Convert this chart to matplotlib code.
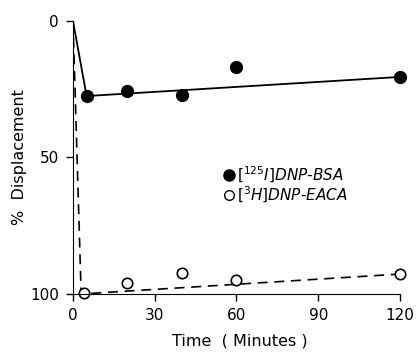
import matplotlib
matplotlib.use('Agg')
import matplotlib.pyplot as plt
from matplotlib.lines import Line2D

plt.rcParams['mathtext.default'] = 'it'

# measured points
bsa_t = [5, 20, 40, 60, 120]
bsa_d = [27.5, 25.5, 27, 17, 20.5]
eaca_t = [4, 20, 40, 60, 120]
eaca_d = [99.5, 96, 92.3, 95, 92.7]

# curves drawn through the data
bsa_line_t = [0, 5, 120]
bsa_line_d = [0, 27.5, 20.5]
eaca_line_t = [0, 3, 120]
eaca_line_d = [0, 100, 92.7]

fig = plt.figure(figsize=(4.18, 3.56), dpi=100)
ax = fig.add_axes([0.1746, 0.1742, 0.7823, 0.7669])

ax.plot(bsa_line_t, bsa_line_d, color='black', lw=1.3)
ax.plot(eaca_line_t, eaca_line_d, color='black', lw=1.2, ls=(0, (6, 4)))
ax.plot(bsa_t, bsa_d, 'o', color='black', ms=8.5, clip_on=False)
ax.plot(eaca_t, eaca_d, 'o', mfc='white', mec='black', mew=1.2, ms=7.5, clip_on=False)

ax.set_xlim(0, 120)
ax.set_ylim(100, 0)
ax.set_xticks([0, 30, 60, 90, 120])
ax.set_yticks([0, 50, 100])
ax.spines['top'].set_visible(False)
ax.spines['right'].set_visible(False)
ax.tick_params(direction='out', length=5, width=1, labelsize=11, pad=5)
ax.set_xlabel('Time  ( Minutes )', fontsize=11.5)
ax.set_ylabel('%  Displacement', fontsize=11.5)
ax.xaxis.set_label_coords(0.51, -0.145)
ax.yaxis.set_label_coords(-0.14, 0.5)

handles = [
    Line2D([], [], marker='o', ls='none', color='black', ms=8),
    Line2D([], [], marker='o', ls='none', mfc='white', mec='black', ms=7),
]
labels = [r'$\left[^{125}I\right]$DNP-BSA', r'$\left[^{3}H\right]$DNP-EACA']
leg = ax.legend(handles, labels, loc='center left', bbox_to_anchor=(0.44, 0.40),
                frameon=False, handlelength=0.6, handletextpad=0.2,
                labelspacing=0.0, borderpad=0,
                prop={'size': 11, 'style': 'italic'})

fig.savefig('out.png', dpi=100)
